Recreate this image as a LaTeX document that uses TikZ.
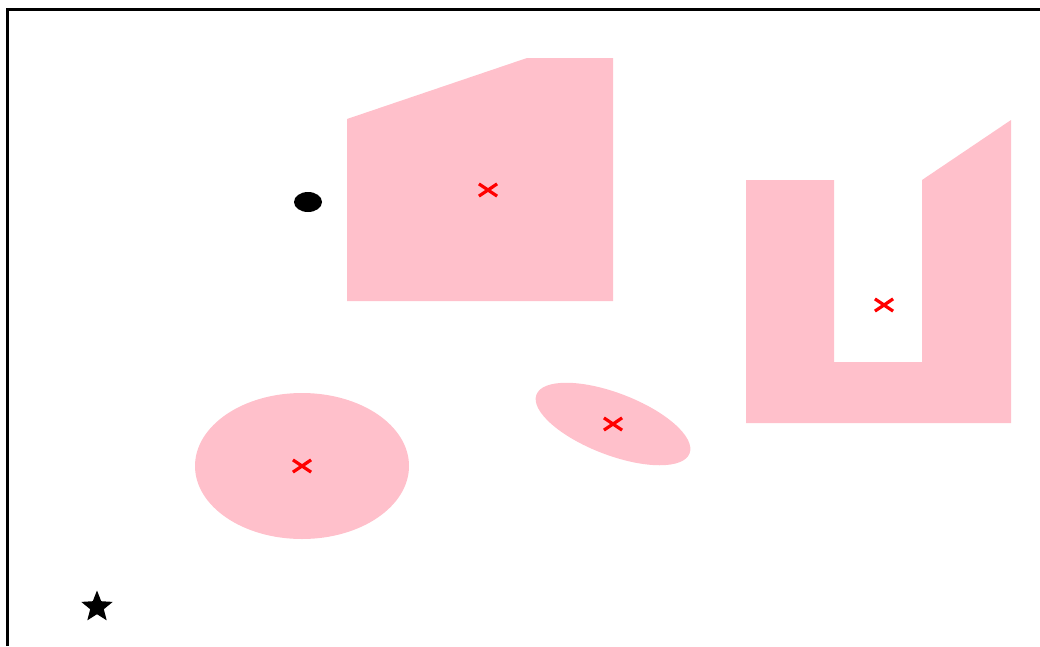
\documentclass[tikz,border=0pt]{standalone}
\usepackage{tikz}
\usetikzlibrary{shapes, shapes.geometric, shapes.misc, positioning}
\definecolor{obspink}{RGB}{255,192,203}
\definecolor{markred}{RGB}{255,0,0}
\tikzset{
  ob region/.style={fill=obspink, draw=none},
  ob ellipse/.style={ellipse, fill=obspink, draw=none, inner sep=0pt},
  ob centre/.style={cross out, draw=markred, line width=3.2pt, minimum width=15pt,
    minimum height=9pt, inner sep=0pt},
  start pt/.style={ellipse, fill=black, minimum width=28pt, minimum height=20pt, inner sep=0pt},
  goal pt/.style={star, star points=5, star point ratio=2.3, fill=black,
    minimum size=33pt, inner sep=0pt},
}

\begin{document}
\begin{tikzpicture}[x=1pt, y=-1pt]
 \useasboundingbox (0,0) rectangle (1040,646);
 % frame
 \draw[line width=3pt] (7,646) -- (7,9) -- (1040,9);
 % polygonal obstacles
 \fill[ob region] (347,119) -- (527,58) -- (613,58) -- (613,301) -- (347,301) -- cycle;
 \fill[ob region] (746,180) -- (834,180) -- (834,362) -- (922,362) -- (922,180)
   -- (1011,120) -- (1011,423) -- (746,423) -- cycle;
 % round obstacles
 \node[ob ellipse, minimum width=214pt, minimum height=146pt] (circ) at (302,466) {};
 \node[ob ellipse, minimum width=164pt, minimum height=62pt, rotate=-21] (tilt) at (613,424) {};
 % centres
 \node[ob centre] (c1) at (488,190) {};
 \node[ob centre] (c2) at (884,305) {};
 \node[ob centre] (c3) at (circ.center) {};
 \node[ob centre] (c4) at (tilt.center) {};
 % start and goal
 \node[start pt] (start) at (308,202) {};
 \node[goal pt] (goal) at (97,607) {};
\end{tikzpicture}
\end{document}
